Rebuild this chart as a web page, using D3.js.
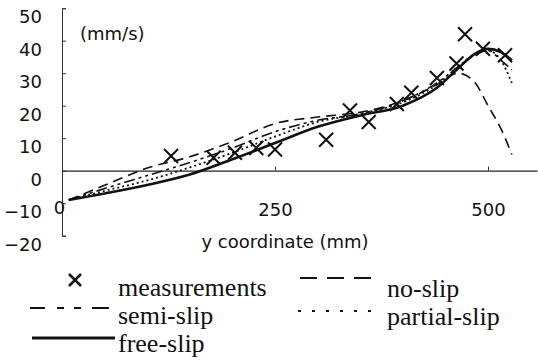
<!DOCTYPE html>
<html lang="en">
<head>
    <meta charset="UTF-8">
    <title>Velocity profile</title>
    <script src="https://d3js.org/d3.v7.min.js"></script>
    <style>
        body {
            margin: 0;
            background: #fff;
        }
        svg {
            display: block;
        }
        .tick text, .label {
            font-family: "DejaVu Sans", sans-serif;
            font-size: 18px;
            fill: #111;
        }
        .legend text {
            font-family: "Liberation Serif", "Times New Roman", serif;
            font-size: 26px;
            fill: #111;
        }
    </style>
</head>
<body>
    <div id="chart"></div>

    <script>
        // measured points (y coordinate in mm, velocity in mm/s)
        const measX = [128, 178, 203, 228, 250, 310, 338, 360, 393, 410, 440, 463, 473, 494, 520];
        const measV = [4.5, 4, 5.5, 7, 6.5, 9.5, 18.5, 15, 20.5, 24, 28.5, 33, 42, 37.5, 35.5];

        // simulated profiles, sampled at these y coordinates
        const simX = [8, 50, 100, 150, 200, 250, 300, 350, 400, 440, 465, 485, 500, 515, 528];
        const noSlip = [-9, -4.5, 0.8, 4.3, 9, 14.5, 16.5, 18, 21.5, 26.5, 30, 27, 20, 13, 5];
        const semiSlip = [-9, -5.5, -1.5, 2.5, 7, 12, 15.5, 17.5, 21.5, 27, 32, 35.5, 37, 34, 31];
        const partialSlip = [-9, -6.2, -3, 1, 5.5, 10.5, 15, 17.5, 21, 26.5, 32, 36, 37, 34, 27];
        const freeSlip = [-9, -7, -4.4, -1.2, 3.5, 8.5, 13.5, 17, 20, 25.5, 31.5, 36, 37.5, 36.5, 34];

        const xTicks = [0, 250, 500];
        const yTicks = [-20, -10, 0, 10, 20, 30, 40, 50];

        const width = 538, height = 363;
        const svg = d3.select("#chart").append("svg").attr("width", width).attr("height", height);

        const x = d3.scaleLinear().domain([0, 557.5]).range([62, 537]);
        const y = d3.scaleLinear().domain([-20, 50]).range([235.7, 8.2]);

        // y axis, ticks pointing inwards, labels sit a bit low like the scan
        const yAxis = svg.append("g")
            .attr("transform", `translate(${x(0)},0)`)
            .call(d3.axisLeft(y).tickValues(yTicks).tickSizeInner(-4).tickSizeOuter(-4).tickPadding(20));
        yAxis.selectAll("text").attr("dy", "0.32em").attr("transform", "translate(0,9)");
        yAxis.select(".domain").attr("stroke", "#333");
        yAxis.selectAll(".tick line").attr("stroke", "#333");

        // x axis drawn along the zero line
        const xAxis = svg.append("g")
            .attr("transform", `translate(0,${y(0)})`)
            .call(d3.axisBottom(x).tickValues(xTicks).tickSizeInner(-4).tickSizeOuter(0).tickPadding(33));
        xAxis.select(".domain").attr("stroke", "#222").attr("stroke-width", 1.3);
        xAxis.selectAll(".tick line").attr("stroke", "#333");
        xAxis.selectAll(".tick").filter(d => d === 0).select("text").attr("transform", "translate(-3,-2)");

        svg.append("text").attr("class", "label")
            .attr("x", 80).attr("y", 39.5)
            .text("(mm/s)");

        svg.append("text").attr("class", "label")
            .attr("x", 285).attr("y", 248)
            .attr("text-anchor", "middle")
            .text("y coordinate (mm)");

        // simulated curves
        const series = [
            { name: "no-slip", values: noSlip, dash: "10,6", w: 1.6 },
            { name: "semi-slip", values: semiSlip, dash: "11,4,3,4,3,4", w: 1.6 },
            { name: "partial-slip", values: partialSlip, dash: "2,3", w: 1.8 },
            { name: "free-slip", values: freeSlip, dash: null, w: 2.6 }
        ];

        const line = d3.line()
            .x((d, i) => x(simX[i]))
            .y(d => y(d))
            .curve(d3.curveMonotoneX);

        svg.append("g").selectAll("path")
            .data(series)
            .enter().append("path")
            .attr("d", d => line(d.values))
            .attr("fill", "none")
            .attr("stroke", "#111")
            .attr("stroke-width", d => d.w)
            .attr("stroke-dasharray", d => d.dash);

        // measurement crosses
        const cross = (cx, cy, r) => `M${cx - r},${cy - r}L${cx + r},${cy + r}M${cx - r},${cy + r}L${cx + r},${cy - r}`;
        svg.append("g").selectAll("path")
            .data(measX)
            .enter().append("path")
            .attr("d", (d, i) => cross(x(d), y(measV[i]), 7))
            .attr("stroke", "#111")
            .attr("stroke-width", 2);

        // legend
        const legend = svg.append("g").attr("class", "legend");
        legend.append("path").attr("d", cross(75, 280, 6)).attr("stroke", "#111").attr("stroke-width", 2.5);
        legend.append("text").attr("x", 118).attr("y", 296).text("measurements");

        legend.append("line").attr("x1", 30).attr("x2", 110).attr("y1", 308).attr("y2", 308)
            .attr("stroke", "#111").attr("stroke-width", 2.2).attr("stroke-dasharray", "15,12,7,10,7,11,17");
        legend.append("text").attr("x", 118).attr("y", 324).text("semi-slip");

        legend.append("line").attr("x1", 32).attr("x2", 115).attr("y1", 338).attr("y2", 338)
            .attr("stroke", "#111").attr("stroke-width", 3);
        legend.append("text").attr("x", 118).attr("y", 352).text("free-slip");

        legend.append("line").attr("x1", 300).attr("x2", 373).attr("y1", 278).attr("y2", 278)
            .attr("stroke", "#111").attr("stroke-width", 2.2).attr("stroke-dasharray", "17,10");
        legend.append("text").attr("x", 387).attr("y", 297).text("no-slip");

        legend.append("line").attr("x1", 298).attr("x2", 382).attr("y1", 311).attr("y2", 311)
            .attr("stroke", "#111").attr("stroke-width", 2.2).attr("stroke-dasharray", "3,11");
        legend.append("text").attr("x", 387).attr("y", 325).text("partial-slip");
    </script>
</body>
</html>
